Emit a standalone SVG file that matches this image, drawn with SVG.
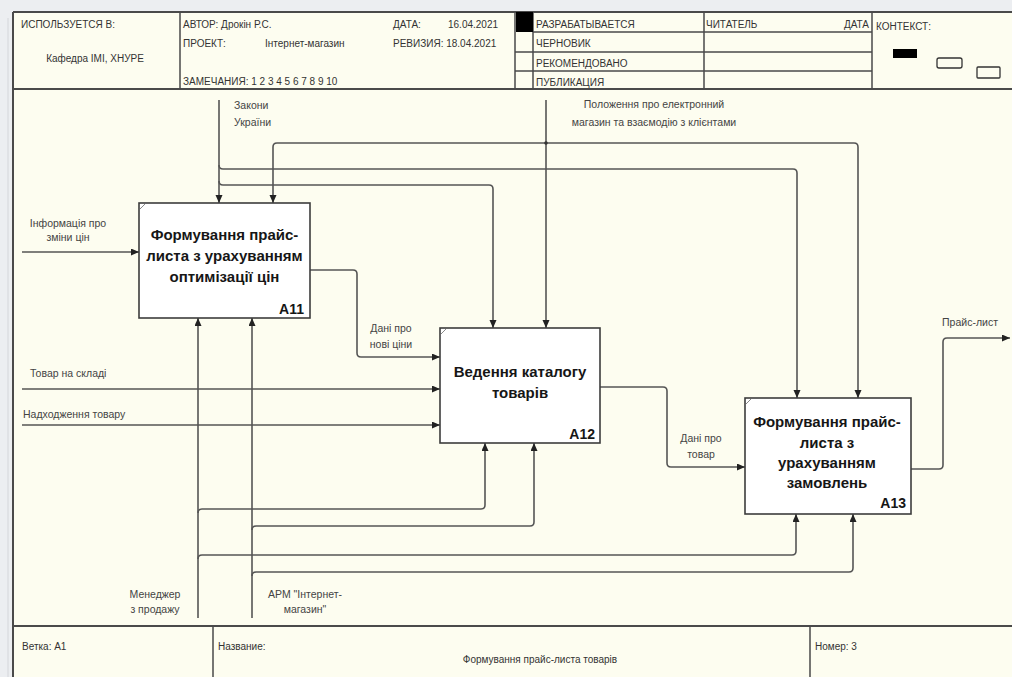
<svg xmlns="http://www.w3.org/2000/svg" width="1012" height="677" viewBox="0 0 1012 677">
<defs>
<style>
.frame{fill:none;stroke:#4a4a4a;stroke-width:2}
.hl{fill:none;stroke:#4a4a4a;stroke-width:1.5}
.hd{font-family:"Liberation Sans",Arial,sans-serif;font-size:10px;fill:#333}
.lbl{font-family:"Liberation Sans",Arial,sans-serif;font-size:10.5px;fill:#444}
.box{fill:#ffffff;stroke:#3c3c3c;stroke-width:1.6}
.ttl{font-family:"Liberation Sans",Arial,sans-serif;font-size:15px;font-weight:bold;fill:#161616;text-anchor:middle}
.num{font-family:"Liberation Sans",Arial,sans-serif;font-size:14px;font-weight:bold;fill:#161616;text-anchor:end}
.cn{fill:none;stroke:#555;stroke-width:1.6}
.mid{text-anchor:middle}
.end{text-anchor:end}
</style>
<marker id="ah" markerUnits="userSpaceOnUse" markerWidth="9" markerHeight="8" refX="8" refY="3.5" orient="auto">
<path d="M0,0 L8,3.5 L0,7 z" fill="#222"/>
</marker>
</defs>
<rect x="0" y="0" width="1012" height="677" fill="#eceef1"/>
<line x1="8" y1="18" x2="8" y2="677" stroke="#d4d6da" stroke-width="1"/>
<rect x="13" y="12" width="1010" height="680" fill="#fdfdf0"/>

<g id="header">
<path class="frame" d="M13,12 H1012 M13,12 V677 M13,89 H1012"/>
<path class="hl" d="M180,12 V89 M515,12 V89 M533,12 V89 M704,12 V89 M872,12 V89 M533,32 H872 M515,52 H872 M515,71 H872"/>
<rect x="516" y="12" width="17" height="20" fill="#000"/>
<text class="hd" x="21" y="28">ИСПОЛЬЗУЕТСЯ В:</text>
<text class="hd mid" x="95" y="62">Кафедра ІМІ, ХНУРЕ</text>
<text class="hd" x="183" y="28">АВТОР: Дрокін Р.С.</text>
<text class="hd" x="393" y="28">ДАТА:</text>
<text class="hd" x="448" y="28">16.04.2021</text>
<text class="hd" x="183" y="47">ПРОЕКТ:</text>
<text class="hd" x="265" y="47">Інтернет-магазин</text>
<text class="hd" x="393" y="47">РЕВИЗИЯ: 18.04.2021</text>
<text class="hd" x="183" y="85">ЗАМЕЧАНИЯ: 1 2 3 4 5 6 7 8 9 10</text>
<text class="hd" x="536" y="28">РАЗРАБАТЫВАЕТСЯ</text>
<text class="hd" x="536" y="47">ЧЕРНОВИК</text>
<text class="hd" x="536" y="67">РЕКОМЕНДОВАНО</text>
<text class="hd" x="536" y="86">ПУБЛИКАЦИЯ</text>
<text class="hd" x="706" y="28">ЧИТАТЕЛЬ</text>
<text class="hd end" x="869" y="28">ДАТА</text>
<text class="hd" x="876" y="30">КОНТЕКСТ:</text>
<rect x="893" y="49" width="24" height="9" fill="#000"/>
<rect x="937" y="58" width="25" height="10" rx="2" fill="none" stroke="#333" stroke-width="1.3"/>
<rect x="977" y="67" width="23" height="11" rx="1" fill="none" stroke="#333" stroke-width="1.3"/>
</g>

<g id="footer">
<path class="frame" d="M13,626 H1012"/>
<path class="hl" d="M213,626 V677 M810,626 V677"/>
<text class="hd" x="22" y="650">Ветка: А1</text>
<text class="hd" x="218" y="650">Название:</text>
<text class="hd mid" x="540" y="663">Формування прайс-листа товарів</text>
<text class="hd" x="815" y="650">Номер: 3</text>
</g>

<g id="connectors">
<path class="cn" marker-end="url(#ah)" d="M219,100 V203"/>
<path class="cn" marker-end="url(#ah)" d="M219,165 Q219,169 223,169 H793 Q797,169 797,173 V398"/>
<path class="cn" marker-end="url(#ah)" d="M219,181 Q219,185 223,185 H489 Q493,185 493,189 V328"/>
<path class="cn" marker-end="url(#ah)" d="M546,100 V328"/>
<path class="cn" marker-end="url(#ah)" d="M546,143 H277 Q273,143 273,147 V203"/>
<path class="cn" marker-end="url(#ah)" d="M546,143 H854 Q858,143 858,147 V398"/>
<circle cx="546" cy="143" r="1.8" fill="#333"/>
<path class="cn" marker-end="url(#ah)" d="M22,252 H139"/>
<path class="cn" marker-end="url(#ah)" d="M310,270 H353 Q357,270 357,274 V353 Q357,357 361,357 H440"/>
<path class="cn" marker-end="url(#ah)" d="M22,389 H440"/>
<path class="cn" marker-end="url(#ah)" d="M22,425 H440"/>
<path class="cn" marker-end="url(#ah)" d="M198,618 V318"/>
<path class="cn" marker-end="url(#ah)" d="M198,513 Q198,509 202,509 H481 Q485,509 485,505 V443"/>
<path class="cn" marker-end="url(#ah)" d="M198,559 Q198,555 202,555 H792 Q796,555 796,551 V514"/>
<path class="cn" marker-end="url(#ah)" d="M252,618 V318"/>
<path class="cn" marker-end="url(#ah)" d="M252,530 Q252,526 256,526 H530 Q534,526 534,522 V443"/>
<path class="cn" marker-end="url(#ah)" d="M252,576 Q252,572 256,572 H849 Q853,572 853,568 V514"/>
<path class="cn" marker-end="url(#ah)" d="M600,387 H663 Q667,387 667,391 V463 Q667,467 671,467 H745"/>
<path class="cn" marker-end="url(#ah)" d="M911,469 H939 Q943,469 943,465 V342 Q943,338 947,338 H1010"/>
</g>

<g id="labels">
<text class="lbl" x="234" y="109">Закони</text>
<text class="lbl" x="234" y="126">України</text>
<text class="lbl mid" x="654" y="108">Положення про електронний</text>
<text class="lbl mid" x="654" y="126">магазин та взаємодію з клієнтами</text>
<text class="lbl mid" x="68" y="227">Інформація про</text>
<text class="lbl mid" x="68" y="241">зміни цін</text>
<text class="lbl mid" x="391" y="332">Дані про</text>
<text class="lbl mid" x="391" y="348">нові ціни</text>
<text class="lbl" x="30" y="377">Товар на складі</text>
<text class="lbl" x="23" y="418">Надходження товару</text>
<text class="lbl mid" x="701" y="442">Дані про</text>
<text class="lbl mid" x="701" y="458">товар</text>
<text class="lbl mid" x="970" y="326">Прайс-лист</text>
<text class="lbl mid" x="155" y="598">Менеджер</text>
<text class="lbl mid" x="155" y="613">з продажу</text>
<text class="lbl mid" x="305" y="598">АРМ "Інтернет-</text>
<text class="lbl mid" x="305" y="613">магазин"</text>
</g>

<g id="A11">
<rect class="box" x="139" y="203" width="171" height="115"/>
<path d="M140,209 L145,204" stroke="#888" stroke-width="1"/>
<text class="ttl" x="224.5" y="240">Формування прайс-</text>
<text class="ttl" x="224.5" y="261">листа з урахуванням</text>
<text class="ttl" x="224.5" y="282">оптимізації цін</text>
<text class="num" x="304" y="314">A11</text>
</g>

<g id="A12">
<rect class="box" x="440" y="328" width="160" height="115"/>
<path d="M441,334 L446,329" stroke="#888" stroke-width="1"/>
<text class="ttl" x="520" y="377">Ведення каталогу</text>
<text class="ttl" x="520" y="398">товарів</text>
<text class="num" x="595" y="439">A12</text>
</g>

<g id="A13">
<rect class="box" x="745" y="398" width="166" height="116"/>
<path d="M746,404 L751,399" stroke="#888" stroke-width="1"/>
<text class="ttl" x="827" y="427">Формування прайс-</text>
<text class="ttl" x="827" y="448">листа з</text>
<text class="ttl" x="827" y="468">урахуванням</text>
<text class="ttl" x="827" y="488">замовлень</text>
<text class="num" x="906" y="508">A13</text>
</g>
</svg>
